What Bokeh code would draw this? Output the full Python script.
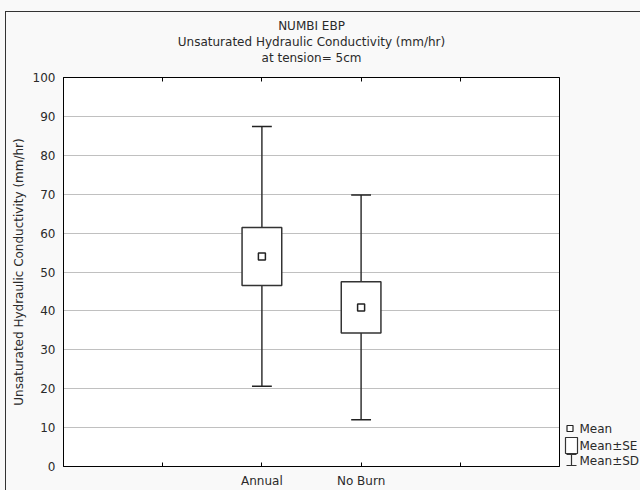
from bokeh.plotting import figure
from bokeh.models import Range1d, FixedTicker, LinearAxis, Title, ColumnDataSource
from bokeh.layouts import row
from bokeh.core.properties import value
from bokeh.embed import file_html
from bokeh.resources import INLINE

# ---- data ----
categories = ["Annual", "No Burn"]
x_pos = [2, 3]
mean = [54.0, 40.9]
se = [7.45, 6.6]
sd = [33.4, 28.9]
y_ticks = [0, 10, 20, 30, 40, 50, 60, 70, 80, 90, 100]
x_ticks = [1, 2, 3, 4]
legend_labels = ["Mean", "Mean\u00b1SE", "Mean\u00b1SD"]
title_lines = ["NUMBI EBP", "Unsaturated Hydraulic Conductivity (mm/hr)", "at tension= 5cm"]
y_label = "Unsaturated Hydraulic Conductivity (mm/hr)"

FONT = "DejaVu Sans"
INK = "#2a2a2a"
BG = "#f9f9f9"

src = ColumnDataSource(dict(
    x=x_pos,
    mean=mean,
    se_lo=[m - s for m, s in zip(mean, se)],
    se_hi=[m + s for m, s in zip(mean, se)],
    sd_lo=[m - s for m, s in zip(mean, sd)],
    sd_hi=[m + s for m, s in zip(mean, sd)],
    cap_l=[x - 0.1 for x in x_pos],
    cap_r=[x + 0.1 for x in x_pos],
))

p = figure(width=563, height=490, x_range=Range1d(0, 5), y_range=Range1d(0, 100),
           output_backend="svg", toolbar_location=None, title=None,
           min_border_left=63, min_border_right=4, min_border_top=77, min_border_bottom=24)
p.background_fill_color = "white"
p.border_fill_color = BG
p.border_fill_alpha = 0
p.outline_line_color = "black"
p.outline_line_width = 1

# x axis
xl = p.xaxis[0]
xl.ticker = FixedTicker(ticks=x_ticks)
xl.major_label_overrides = {1: "", 2: categories[0], 3: categories[1], 4: ""}
xl.major_tick_in = 4
xl.major_tick_out = 0
xl.minor_tick_line_color = None
xl.major_label_standoff = 7
xl.major_label_text_font = FONT
xl.major_label_text_font_size = "12px"
xl.major_label_text_color = INK
xl.axis_line_color = "black"

top = LinearAxis(ticker=FixedTicker(ticks=x_ticks), major_label_text_font_size="0px",
                 major_tick_in=4, major_tick_out=0, minor_tick_line_color=None,
                 major_label_standoff=0, axis_line_color="black")
top.major_label_overrides = {t: "" for t in x_ticks}
p.add_layout(top, "above")

# y axis
yl = p.yaxis[0]
yl.ticker = FixedTicker(ticks=y_ticks)
yl.major_tick_in = 0
yl.major_tick_out = 0
yl.minor_tick_line_color = None
yl.major_label_standoff = 8
yl.major_label_text_font = FONT
yl.major_label_text_font_size = "12px"
yl.major_label_text_color = INK
yl.axis_label = y_label
yl.axis_label_text_font = FONT
yl.axis_label_text_font_size = "12px"
yl.axis_label_text_font_style = "normal"
yl.axis_label_text_color = INK
yl.axis_label_standoff = 4
yl.axis_line_color = "black"

p.xgrid.visible = False
p.ygrid.ticker = FixedTicker(ticks=y_ticks[1:-1])
p.ygrid.grid_line_color = "#808080"
p.ygrid.grid_line_dash = "1 1"
p.ygrid.grid_line_width = 1

# gap between the plot frame and the title block
p.add_layout(Title(text="\u00a0", text_font_size="9px", standoff=1), "above")
# titles (closest to plot first)
for txt in reversed(title_lines):
    p.add_layout(Title(text=txt, align="center", text_font=FONT, text_font_size="12px",
                       text_font_style="normal", text_color=INK, standoff=0), "above")

# whiskers (mean +/- SD)
p.segment(x0="x", y0="sd_lo", x1="x", y1="sd_hi", source=src, line_color="#333333", line_width=1.5)
p.segment(x0="cap_l", y0="sd_hi", x1="cap_r", y1="sd_hi", source=src, line_color="#222222", line_width=1.5)
p.segment(x0="cap_l", y0="sd_lo", x1="cap_r", y1="sd_lo", source=src, line_color="#222222", line_width=1.5)
# boxes (mean +/- SE)
p.vbar(x="x", width=0.4, bottom="se_lo", top="se_hi", source=src,
       fill_color="white", line_color="#333333", line_width=1.5)
# mean markers
p.scatter(x="x", y="mean", source=src, marker="square", size=7,
          fill_color="white", line_color="#222222", line_width=1.5)

# ---- legend panel (its frame lines up with the plot frame; y in px from frame top) ----
lg = figure(width=77, height=490, x_range=Range1d(0, 77), y_range=Range1d(389, 0),
            output_backend="svg", toolbar_location=None, title=None,
            min_border=0, x_axis_location=None, y_axis_location=None)
lg.outline_line_color = None
lg.grid.visible = False
lg.background_fill_color = BG
lg.border_fill_color = BG
lg.border_fill_alpha = 0
lg_y = [351, 368, 383]
lg.scatter(x=[6.5], y=[lg_y[0]], marker="square", size=6, fill_color="white",
           line_color="#222222", line_width=1.2)
lg.quad(left=[2], right=[14], top=[lg_y[1] - 8], bottom=[lg_y[1] + 8],
        fill_color="white", line_color="#333333", line_width=1.2)
lg.segment(x0=[8, 3, 3], y0=[lg_y[2] - 6, lg_y[2] - 6, lg_y[2] + 5],
           x1=[8, 13, 13], y1=[lg_y[2] + 5, lg_y[2] - 6, lg_y[2] + 5],
           line_color="#333333", line_width=1.2)
lg.text(x=[16, 16, 16], y=lg_y, text=legend_labels, text_baseline="middle",
        text_font=value(FONT), text_font_size="12px", text_color=INK)

layout = row(p, lg)
# thin outer frame line (top and left), drawn behind the transparent plot borders
layout.styles = {
    "background-color": BG,
    "background-image": "linear-gradient(#333333, #333333), linear-gradient(#333333, #333333)",
    "background-size": "100% 1px, 1px 100%",
    "background-position": "5px 11px, 5px 11px",
    "background-repeat": "no-repeat",
}

open("out.html", "w").write(file_html(layout, INLINE))
